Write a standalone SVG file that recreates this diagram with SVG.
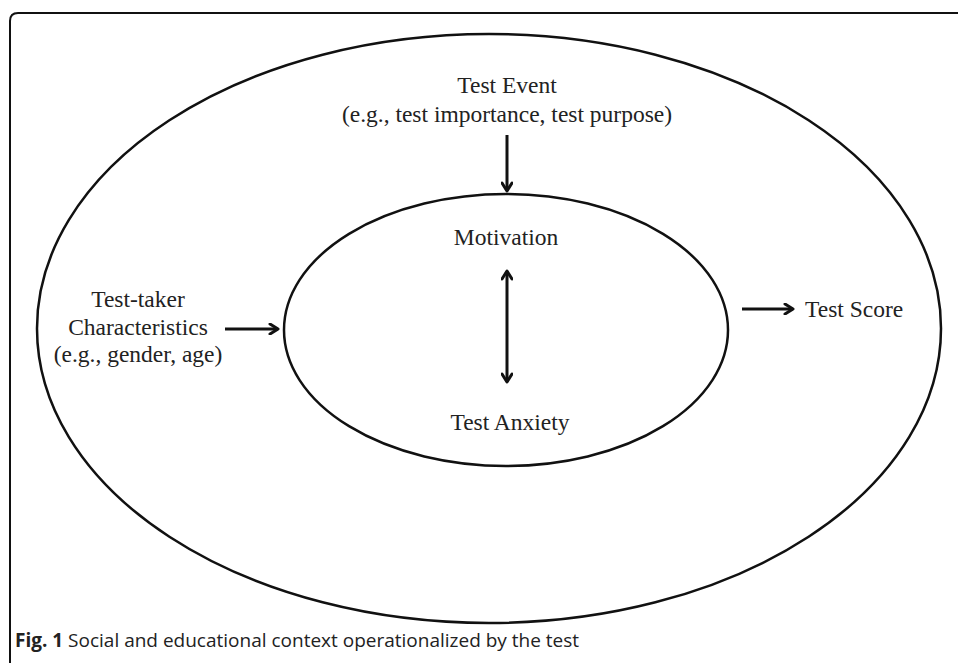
<svg xmlns="http://www.w3.org/2000/svg" width="958" height="663" viewBox="0 0 958 663">
<style>
.lbl{font-family:"Liberation Serif","Times New Roman",serif;font-size:23.5px;fill:#222;text-anchor:middle}
.ell{fill:none;stroke:#111;stroke-width:2.5}
.con{fill:none;stroke:#111;stroke-width:3}
.cap{font-family:"Open Sans","Noto Sans",sans-serif;font-size:19px;fill:#222}
</style>
<defs>
<marker id="ah" viewBox="0 0 12 12" refX="10" refY="6" markerWidth="12" markerHeight="12" markerUnits="userSpaceOnUse" orient="auto-start-reverse">
<path d="M2,1 L10,6 L2,11" fill="none" stroke="#111" stroke-width="3" stroke-linecap="round" stroke-linejoin="round"/>
</marker>
</defs>
<rect width="958" height="663" fill="#fff"/>
<path d="M10,700 L10,21 Q10,13 18,13 L1000,13" fill="none" stroke="#111" stroke-width="2"/>
<g id="outer"><ellipse class="ell" cx="489" cy="328.5" rx="452" ry="294.5"/></g>
<g id="inner"><ellipse class="ell" cx="506" cy="330" rx="222" ry="136"/></g>
<g id="test-event">
<text class="lbl" x="507" y="93">Test Event</text>
<text class="lbl" x="507" y="122">(e.g., test importance, test purpose)</text>
</g>
<g id="test-taker">
<text class="lbl" x="138" y="307">Test-taker</text>
<text class="lbl" x="138" y="335">Characteristics</text>
<text class="lbl" x="138" y="362">(e.g., gender, age)</text>
</g>
<g id="motivation"><text class="lbl" x="506" y="245">Motivation</text></g>
<g id="test-anxiety"><text class="lbl" x="510" y="430">Test Anxiety</text></g>
<g id="test-score"><text class="lbl" x="805" y="317" style="text-anchor:start">Test Score</text></g>
<g id="connectors">
<line class="con" x1="507" y1="135" x2="507" y2="191" marker-end="url(#ah)"/>
<line class="con" x1="225" y1="329" x2="278" y2="329" marker-end="url(#ah)"/>
<line class="con" x1="742" y1="309" x2="793" y2="309" marker-end="url(#ah)"/>
<line class="con" x1="507" y1="271" x2="507" y2="382" marker-start="url(#ah)" marker-end="url(#ah)"/>
</g>
<text class="cap" x="15" y="647"><tspan font-weight="bold">Fig. 1</tspan> Social and educational context operationalized by the test</text>
</svg>
